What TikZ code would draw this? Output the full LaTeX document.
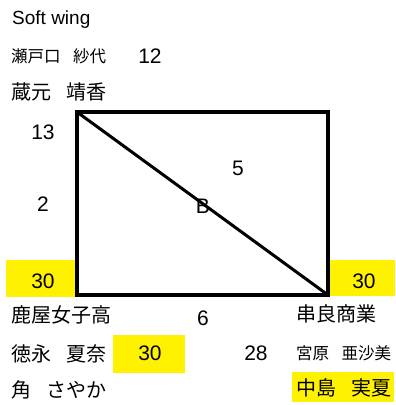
\documentclass[tikz,border=0pt]{standalone}
\usepackage{fontspec}
\setmainfont{Liberation Sans}
\newfontfamily\jpfont{Noto Sans CJK JP}
\newcommand{\namegap}{\hspace{0.75em}}
\tikzset{
  latinlbl/.style={inner sep=0pt,anchor=west,text height=14pt,text depth=0pt,
    font=\fontsize{19}{19}\selectfont},
  namebig/.style={inner sep=0pt,anchor=west,text height=14.8pt,text depth=0pt,
    font=\jpfont\fontsize{20}{20}\selectfont},
  namesmall/.style={inner sep=0pt,anchor=west,text height=12.2pt,text depth=0pt,
    font=\jpfont\fontsize{16.5}{16.5}\selectfont},
  numlbl/.style={inner sep=0pt,text height=15.5pt,text depth=0pt,
    font=\fontsize{21}{21}\selectfont},
  hibox/.style={rectangle,fill=yellow,inner sep=0pt},
  frame/.style={draw=black,line width=3.5pt},
}

\begin{document}
\begin{tikzpicture}[x=1pt,y=-1pt]
  \useasboundingbox (0,0) rectangle (396,405);
  % yellow highlights
  \node[hibox,minimum width=69pt,minimum height=37pt] (hlleft)  at (40.5,278.5) {};
  \node[hibox,minimum width=66pt,minimum height=36pt] (hlright) at (362,278) {};
  \node[hibox,minimum width=72pt,minimum height=38pt] (hlmid)   at (149,354) {};
  \node[hibox,minimum width=102pt,minimum height=30pt] (hlnaka) at (343,387) {};
  % court
  \coordinate (tl) at (77,112);
  \coordinate (br) at (328,295);
  \draw[frame] (tl) rectangle (br);
  \draw[frame,line width=3pt] (tl) -- (br);
  % labels
  \node[latinlbl]  (team)    at (12,17)  {Soft wing};
  \node[namesmall] (seto)    at (11,56)  {瀬戸口\namegap 紗代};
  \node[numlbl]    (n12)     at (150,56) {12};
  \node[namebig]   (kura)    at (11,92)  {蔵元\namegap 靖香};
  \node[numlbl]    (n13)     at (43,132) {13};
  \node[numlbl]    (n2)      at (43,204) {2};
  \node[numlbl]    (n5)      at (238,168) {5};
  \node[numlbl]    (courtB)  at (203,206) {B};
  \node[numlbl]    (n30l)    at (43,281) {30};
  \node[numlbl]    (n30r)    at (364,281) {30};
  \node[namebig]   (kanoya)  at (11,315) {鹿屋女子高};
  \node[numlbl]    (n6)      at (203,318) {6};
  \node[namebig]   (kushira) at (296,314) {串良商業};
  \node[namebig]   (toku)    at (11,354) {徳永\namegap 夏奈};
  \node[numlbl]    (n30m)    at (150,353) {30};
  \node[numlbl]    (n28)     at (256,353) {28};
  \node[namesmall] (miya)    at (296,353) {宮原\namegap 亜沙美};
  \node[namebig]   (sumi)    at (11,390) {角\namegap さやか};
  \node[namebig]   (naka)    at (296,388) {中島\namegap 実夏};
\end{tikzpicture}
\end{document}
